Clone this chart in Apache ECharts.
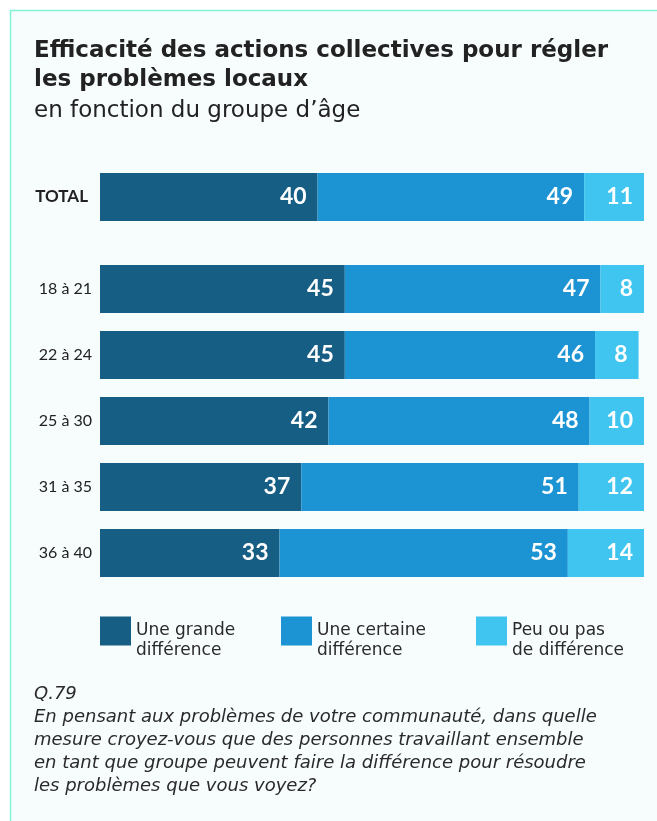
<!DOCTYPE html>
<html>
<head>
<meta charset="utf-8">
<script src="https://cdn.jsdelivr.net/npm/echarts@6/dist/echarts.min.js"></script>
<style>
  html, body { margin: 0; padding: 0; background: #fff; }
  #chart { width: 657px; height: 821px; }
</style>
</head>
<body>
<div id="chart"></div>
<script>
  // données
  var totalLabel = ['TOTAL']
  var ageGroups = ['18 à 21', '22 à 24', '25 à 30', '31 à 35', '36 à 40']
  var seriesNames = ['Une grande\ndifférence', 'Une certaine\ndifférence', 'Peu ou pas\nde différence']
  var totalGrande = [40]
  var totalCertaine = [49]
  var totalPeu = [11]
  var ageGrande = [45, 45, 42, 37, 33]
  var ageCertaine = [47, 46, 48, 51, 53]
  var agePeu = [8, 8, 10, 12, 14]
  var colors = ['#165e83', '#1c94d3', '#3fc5f0']

  var font = 'Lato'
  var wideFont = 'DejaVu Sans'

  function barSeries(name, data, idx, color) {
    return {
      name: name,
      type: 'bar',
      stack: 'g' + idx,
      xAxisIndex: idx,
      yAxisIndex: idx,
      barWidth: 48,
      data: data,
      itemStyle: { color: color },
      label: {
        show: true,
        position: 'insideRight',
        distance: 11,
        color: '#fff',
        fontFamily: font,
        fontWeight: 'bold',
        fontSize: 23
      }
    }
  }

  function catAxis(idx, data, bold) {
    return {
      type: 'category',
      gridIndex: idx,
      data: data,
      inverse: true,
      axisLine: { show: false },
      axisTick: { show: false },
      axisLabel: {
        margin: bold ? 12 : 8,
        color: '#222',
        fontFamily: font,
        fontSize: bold ? 17 : 16,
        fontWeight: bold ? 'bold' : 'normal'
      }
    }
  }

  function valAxis(idx) {
    return { type: 'value', gridIndex: idx, min: 0, max: 100, show: false }
  }

  var legendX = [100, 281, 476]
  var legends = seriesNames.map(function (n, i) {
    return {
      data: [n],
      left: legendX[i] - 5,
      top: 596,
      itemWidth: 31,
      itemHeight: 29,
      itemGap: 0,
      icon: 'rect',
      selectedMode: false,
      // ligne vide en tête pour caler le texte sous le carré
      formatter: function (name) { return ' \n' + name },
      textStyle: {
        color: '#2a2a2a',
        fontFamily: wideFont,
        fontSize: 17,
        lineHeight: 20
      }
    }
  })

  var chart = echarts.init(document.getElementById('chart'))
  chart.setOption({
    backgroundColor: '#ffffff',
    animation: false,
    title: {
      left: 29,
      top: 32,
      text: 'Efficacité des actions collectives pour régler\nles problèmes locaux',
      subtext: 'en fonction du groupe d’âge',
      itemGap: 3,
      textStyle: {
        color: '#222',
        fontFamily: wideFont,
        fontWeight: 'bold',
        fontSize: 23,
        lineHeight: 29
      },
      subtextStyle: {
        color: '#222',
        fontFamily: wideFont,
        fontSize: 23,
        lineHeight: 27
      }
    },
    legend: legends,
    grid: [
      { left: 100, width: 544, top: 164, height: 66 },
      { left: 100, width: 544, top: 256, height: 330 }
    ],
    xAxis: [valAxis(0), valAxis(1)],
    yAxis: [catAxis(0, totalLabel, true), catAxis(1, ageGroups, false)],
    series: [
      barSeries(seriesNames[0], totalGrande, 0, colors[0]),
      barSeries(seriesNames[1], totalCertaine, 0, colors[1]),
      barSeries(seriesNames[2], totalPeu, 0, colors[2]),
      barSeries(seriesNames[0], ageGrande, 1, colors[0]),
      barSeries(seriesNames[1], ageCertaine, 1, colors[1]),
      barSeries(seriesNames[2], agePeu, 1, colors[2])
    ],
    graphic: [
      {
        type: 'rect',
        z: -10,
        silent: true,
        shape: { x: 10.5, y: 10.5, width: 700, height: 900 },
        style: { fill: '#f7fcfc', stroke: '#84f2d6', lineWidth: 1.5 }
      },
      {
        type: 'text',
        left: 34,
        top: 683,
        style: {
          text: 'Q.79\nEn pensant aux problèmes de votre communauté, dans quelle\nmesure croyez-vous que des personnes travaillant ensemble\nen tant que groupe peuvent faire la différence pour résoudre\nles problèmes que vous voyez?',
          font: 'italic 18px "DejaVu Sans"',
          lineHeight: 23,
          fill: '#2a2a2a'
        }
      }
    ]
  })
</script>
</body>
</html>
